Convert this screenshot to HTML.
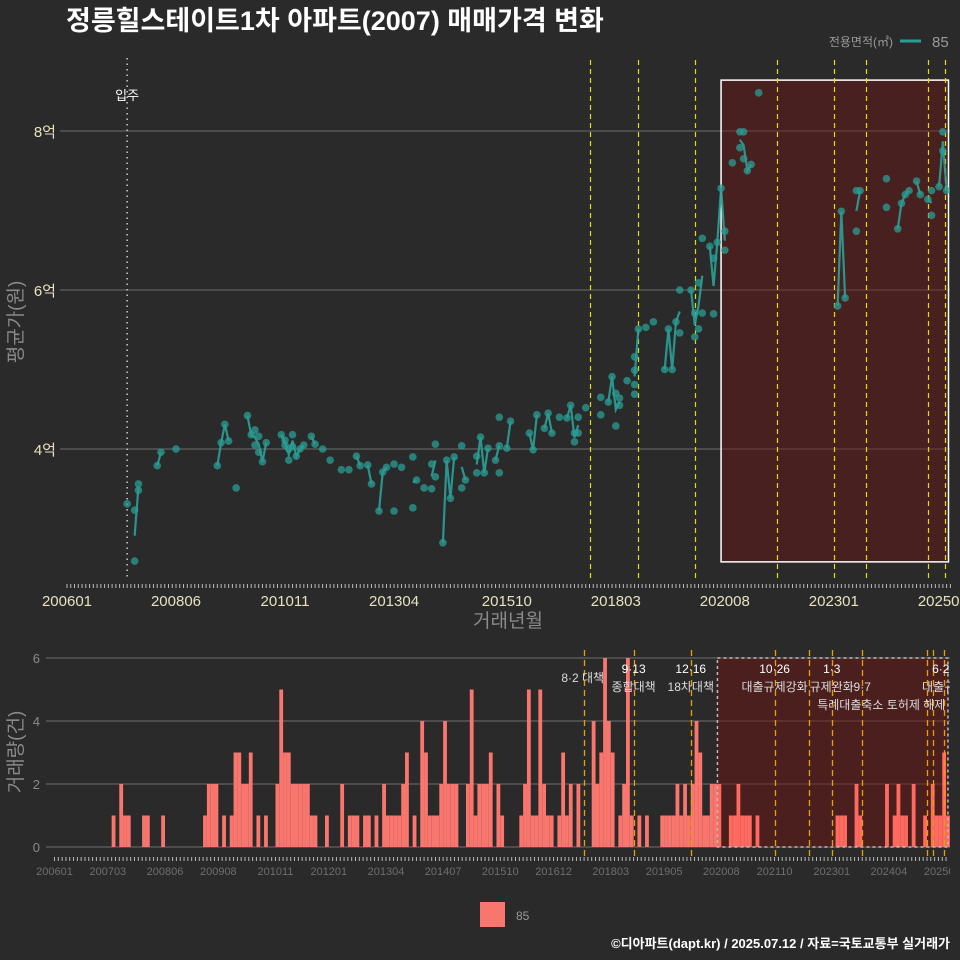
<!DOCTYPE html>
<html><head><meta charset="utf-8">
<style>
html,body{margin:0;padding:0;background:#2a2a2b;}
svg{display:block;font-family:"Liberation Sans","Noto Sans CJK KR",sans-serif;}
</style></head>
<body>
<svg id="chart" width="960" height="960" viewBox="0 0 960 960" xmlns="http://www.w3.org/2000/svg">
<rect x="0" y="0" width="960" height="960" fill="#2a2a2b"/>
<text x="66" y="30" fill="#ffffff" font-size="27" font-weight="bold">정릉힐스테이트1차 아파트(2007) 매매가격 변화</text>
<g>
<text x="893" y="46" fill="#9a9a9a" font-size="12" text-anchor="end">전용면적(㎡)</text>
<line x1="900" y1="41" x2="921" y2="41" stroke="#2a9d94" stroke-width="3"/>
<text x="932" y="47" fill="#9a9a9a" font-size="15">85</text>
</g>
<g id="topPanel"></g>
<g id="botPanel"></g>
<text transform="translate(22,322) rotate(-90)" fill="#8a8a8a" font-size="19" text-anchor="middle">평균가(원)</text>
<text x="508" y="627" fill="#8a8a8a" font-size="19" text-anchor="middle">거래년월</text>
<text transform="translate(22,752) rotate(-90)" fill="#8a8a8a" font-size="19" text-anchor="middle">거래량(건)</text>
<g>
<rect x="480" y="902" width="25" height="25" fill="#f8766d"/>
<text x="516" y="920" fill="#9a9a9a" font-size="12">85</text>
</g>
<text x="950" y="948" fill="#ffffff" font-size="13" font-weight="bold" text-anchor="end">©디아파트(dapt.kr) / 2025.07.12 / 자료=국토교통부 실거래가</text>
</svg>
<script>
// ---- data (month index: months since 2006-01) ----
const tradeMonths = [16,18,18,19,19,24,25,29,40,41,42,43,45,48,49,50,50,51,51,52,53,57,58,58,59,59,60,60,61,62,63,65,66,68,70,73,75,77,78,80,81,83,84,85,87,87,89,92,92,93,95,97,97,98,98,100,101,102,103,105,105,106,109,109,110,111,112,114,115,115,115,117,118,123,124,125,127,128,129,131,133,134,135,135,136,136,138,142,142,144,145,146,147,146,147,149,151,151,151,151,152,154,156,159,160,161,162,163,163,166,167,167,168,169,168,169,171,172,173,175,175,174,172,177,179,180,179,180,181,182,184,205,206,207,210,211,210,218,218,221,222,223,224,226,227,229,230,230,232,233,233,234];
const tradePrices = [3.31,2.59,3.23,3.56,3.48,3.79,3.96,4.0,3.79,4.08,4.31,4.1,3.51,4.42,4.18,4.05,4.24,3.96,4.16,3.84,4.08,4.18,4.11,4.05,3.86,4.0,4.18,4.03,3.91,4.0,4.05,4.16,4.06,4.0,3.86,3.74,3.74,3.91,3.79,3.8,3.56,3.22,3.71,3.77,3.81,3.22,3.77,3.9,3.26,3.61,3.51,3.81,3.5,4.06,3.65,2.82,3.86,3.38,3.9,3.51,4.04,3.61,3.91,3.7,4.15,3.7,4.01,3.86,4.04,3.7,4.4,4.01,4.35,4.2,3.99,4.43,4.26,4.45,4.2,4.4,4.39,4.55,4.2,4.09,4.2,4.4,4.52,4.65,4.43,4.59,4.91,4.7,4.55,4.29,4.64,4.86,5.16,4.99,4.81,4.69,5.51,5.53,5.6,5.0,5.51,5.0,5.6,5.46,6.0,6.0,5.71,5.41,5.51,5.71,6.09,6.65,6.55,6.4,6.6,6.74,6.5,7.28,5.7,7.6,7.79,7.65,7.99,7.99,7.5,7.58,8.48,5.8,6.99,5.9,7.25,7.25,6.74,7.4,7.04,6.77,7.09,7.2,7.25,7.37,7.2,7.14,6.94,7.25,7.3,7.99,7.75,7.25];
const volMonths = [15,17,18,19,23,24,28,39,40,41,42,44,46,47,48,49,50,51,53,55,58,59,60,61,62,63,64,65,66,67,68,71,75,77,78,79,81,82,84,86,87,88,89,90,91,92,94,96,97,98,99,100,101,102,103,104,105,108,109,110,111,112,113,114,116,117,122,123,124,125,126,127,128,129,130,132,133,134,135,137,141,142,143,144,145,146,148,149,150,151,153,155,159,160,161,162,163,164,165,166,167,168,169,170,171,172,173,174,177,178,179,180,181,182,184,205,206,207,210,211,218,220,221,222,223,225,228,230,231,232,233,234];
const volCounts = [1,2,1,1,1,1,1,1,2,2,2,1,1,3,3,2,2,3,1,1,2,5,3,3,2,2,2,2,2,1,1,1,2,1,1,1,1,1,1,2,1,1,1,1,2,3,1,4,3,1,1,1,2,4,2,2,2,2,5,1,2,2,2,3,2,1,1,2,5,1,1,5,2,1,1,1,3,1,2,2,4,2,3,6,4,3,1,2,6,1,1,1,1,1,1,1,2,1,2,1,2,4,3,1,1,2,2,2,1,1,2,1,1,1,1,1,1,1,2,1,2,1,2,1,1,2,1,2,1,1,3,1];
const priceTicks = [4,6,8];
const priceTickLabels = ["4억","6억","8억"];
const volTicks = [0,2,4,6];
const xLabelMonthsTop = [0,29,58,87,117,146,175,204,233];
const xLabelTextTop = ["200601","200806","201011","201304","201510","201803","202008","202301","202506"];
const xLabelMonthsBot = [0,14,29,43,58,72,87,102,117,131,146,160,175,189,204,219,233];
const xLabelTextBot = ["200601","200703","200806","200908","201011","201201","201304","201407","201510","201612","201803","201905","202008","202110","202301","202404","202506"];
const topPolicyMonths = [139,152,167,189,204,212.5,229,233.5];
const botPolicyMonths = [139,152,167,189,198,204,212,229,230.5,233.5];
const moveInMonth = 16;
const highlightStart = 174, highlightEnd = 234.5, highlightLow = 2.58, highlightHigh = 8.64;
const botNotes = [
 {m:139, t:"8·2 대책", row:0.5, anchor:"end", dx:20},
 {m:152, t:"9·13", row:0}, {m:152, t:"종합대책", row:1},
 {m:167, t:"12·16", row:0}, {m:167, t:"18차대책", row:1},
 {m:189, t:"10·26", row:0}, {m:189, t:"대출규제강화", row:1},
 {m:204, t:"1·3", row:0}, {m:204, t:"규제완화", row:1},
 {m:212, t:"9·7", row:1}, {m:217, t:"특례대출축소 토허제 해제", row:2},
 {m:233.5, t:"6·27", row:0}, {m:233.5, t:"대출규제", row:1}
];
// ---- scales ----
const xT = m => 67 + m*3.759;
const yT = v => 449 - (v-4)*79.5;
const xB = m => 54.5 + m*3.81;
const yB = v => 847 - v*31.5;
const snap = x => Math.round(x)+0.5;
const NS = "http://www.w3.org/2000/svg";
function mk(tag, attrs, parent){const e=document.createElementNS(NS,tag);for(const k in attrs)e.setAttribute(k,attrs[k]);parent.appendChild(e);return e;}

const svgEl = document.getElementById('chart');
const defsEl = mk('defs',{},svgEl);
const cp1 = mk('clipPath',{id:'cTop'},defsEl); mk('rect',{x:60,y:50,width:890,height:530},cp1);
const cp2 = mk('clipPath',{id:'cBot'},defsEl); mk('rect',{x:46,y:648,width:904,height:210},cp2);
const cp3 = mk('clipPath',{id:'cLbl'},defsEl); mk('rect',{x:30,y:860,width:920,height:20},cp3);

// ---- top panel ----
const topG = document.getElementById('topPanel');


priceTicks.forEach((v,i)=>{
  const g = mk('line',{x1:60,x2:950,y1:yT(v),y2:yT(v),stroke:'#6e6e6e','stroke-width':1},topG);
  
  
  const t = mk('text',{x:56,y:yT(v)+6,fill:'#e6e2c0','font-size':15,'text-anchor':'end'},topG);
  t.textContent = priceTickLabels[i];
  
  
});
const hb = mk('rect',{x:xT(highlightStart),y:yT(highlightHigh),width:xT(highlightEnd)-xT(highlightStart),height:yT(highlightLow)-yT(highlightHigh),fill:'rgba(110,20,20,0.45)',stroke:'#ffffff','stroke-width':1.5},topG);


topPolicyMonths.forEach(m=>{
  const l = mk('line',{x1:snap(xT(m)),x2:snap(xT(m)),y1:60,y2:578,stroke:'#e0e000','stroke-width':1.2,'stroke-dasharray':'5,4'},topG);
  
  
});
const mv = mk('line',{x1:xT(moveInMonth),x2:xT(moveInMonth),y1:58,y2:578,stroke:'#cccccc','stroke-width':1.5,'stroke-dasharray':'1.5,4'},topG);


const mvt = mk('text',{x:xT(moveInMonth),y:100,fill:'#ffffff','font-size':13,'text-anchor':'middle'},topG);
mvt.textContent='입주';


const byM = {};
tradeMonths.forEach((m,i)=>{(byM[m]=byM[m]||[]).push(tradePrices[i]);});
const monthList = Object.keys(byM).map(Number).sort((a,b)=>a-b);
const dataG = mk('g',{'clip-path':'url(#cTop)'},topG);
let seg=[];
function flush(){ if(seg.length>1){const p=mk('polyline',{points:seg.map(q=>q.join(',')).join(' '),fill:'none',stroke:'#2aa198','stroke-width':2.2,'stroke-opacity':0.9},dataG);
  
  } seg=[]; }
monthList.forEach((m,i)=>{
  const avg = byM[m].reduce((a,b)=>a+b,0)/byM[m].length;
  if(i>0 && m-monthList[i-1]>1) flush();
  seg.push([xT(m),yT(avg)]);
});
flush();
tradeMonths.forEach((m,i)=>{
  const c = mk('circle',{cx:xT(m),cy:yT(tradePrices[i]),r:3.8,fill:'#2a9d94','fill-opacity':0.75},dataG);
  
  
});
for(let m=0;m<=235;m++){
  const t = mk('line',{x1:xT(m),x2:xT(m),y1:584,y2:588,stroke:'#bbbbbb','stroke-width':1},topG);
  
  
}
xLabelMonthsTop.forEach((m,i)=>{
  const t = mk('text',{x:xT(m),y:606,fill:'#e6e2c0','font-size':15,'text-anchor':'middle'},topG);
  t.textContent = xLabelTextTop[i];
  
  
});

// ---- bottom panel ----
const botG = document.getElementById('botPanel');


volTicks.forEach(v=>{
  const g = mk('line',{x1:46,x2:950,y1:yB(v),y2:yB(v),stroke:'#6e6e6e','stroke-width':1},botG);
  
  
  const t = mk('text',{x:40,y:yB(v)+5,fill:'#8a8a8a','font-size':13,'text-anchor':'end'},botG);
  t.textContent = v;
  
  
});
const barG = mk('g',{'clip-path':'url(#cBot)'},botG);
const hb2 = mk('rect',{x:xB(highlightStart),y:yB(6),width:xB(highlightEnd)-xB(highlightStart),height:yB(0)-yB(6),fill:'rgba(110,20,20,0.5)'},barG);


volMonths.forEach((m,i)=>{
  const b = mk('rect',{x:xB(m),y:yB(volCounts[i]),width:3.81,height:yB(0)-yB(volCounts[i]),fill:m>=highlightStart?'#ff6a60':'#f8766d'},barG);
  
  
});
const hb3 = mk('rect',{x:xB(highlightStart),y:yB(6),width:xB(highlightEnd)-xB(highlightStart),height:yB(0)-yB(6),fill:'none',stroke:'#bbbbbb','stroke-width':1.5,'stroke-dasharray':'3,3'},barG);


botPolicyMonths.forEach(m=>{
  const l = mk('line',{x1:snap(xB(m)),x2:snap(xB(m)),y1:650,y2:856,stroke:'#e6a000','stroke-width':1.3,'stroke-dasharray':'6,4'},barG);
  
  
});
botNotes.forEach(n=>{
  const t = mk('text',{x:xB(n.m)+(n.dx||0),y:673+n.row*18,fill:n.row===0?'#ffffff':'#dddddd','font-size':12,'text-anchor':n.anchor||'middle'},barG);
  t.textContent = n.t;
  
  
});
for(let m=0;m<=234;m++){
  const t = mk('line',{x1:xB(m),x2:xB(m),y1:857,y2:861,stroke:'#bbbbbb','stroke-width':1},botG);
  
  
}
const lblG = mk('g',{'clip-path':'url(#cLbl)'},botG);
xLabelMonthsBot.forEach((m,i)=>{
  const t = mk('text',{x:xB(m),y:875,fill:'#6e6e6e','font-size':11,'text-anchor':'middle'},lblG);
  t.textContent = xLabelTextBot[i];
  
  
});
</script>
</body></html>
